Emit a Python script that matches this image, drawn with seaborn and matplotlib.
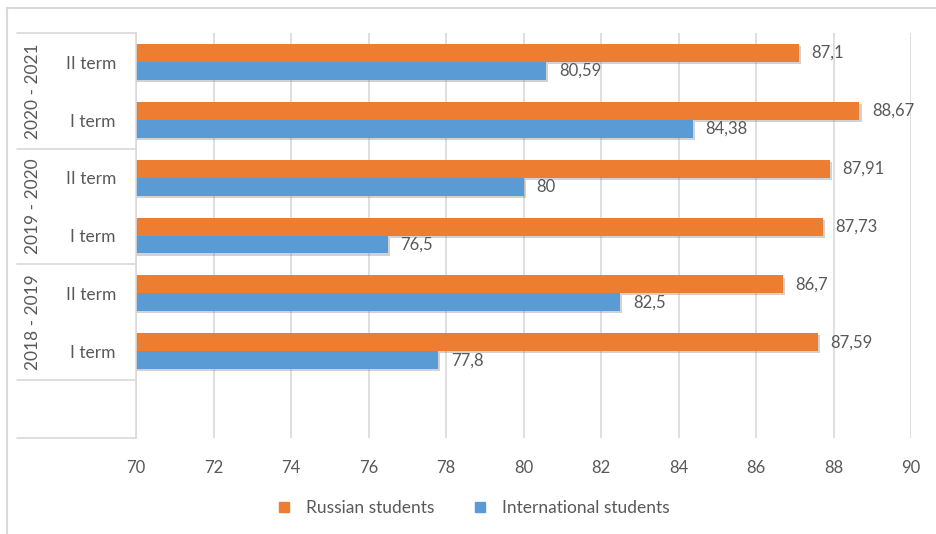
import pandas as pd
import matplotlib.pyplot as plt
import seaborn as sns
from matplotlib.lines import Line2D
from matplotlib import patheffects as pe
from matplotlib.transforms import blended_transform_factory

# Values, bottom row first
years = ["2018 - 2019", "2019 - 2020", "2020 - 2021"]
terms = ["I term", "II term"]
russian = [87.59, 86.7, 87.73, 87.91, 88.67, 87.1]
international = [77.8, 82.5, 76.5, 80, 84.38, 80.59]
series = ["Russian students", "International students"]
x_ticks = [70, 72, 74, 76, 78, 80, 82, 84, 86, 88, 90]

ORANGE = "#ED7D31"
BLUE = "#5B9BD5"
GRID = "#D9D9D9"
TEXT = "#595959"

sns.set_theme(style="white")
plt.rcParams['font.family'] = ['Lato', 'DejaVu Sans']

# long table for seaborn
rows = []
keys = []
i = 0
for year in years:
    for term in terms:
        key = f"{year}|{term}"
        keys.append(key)
        rows.append({"cat": key, "series": series[0], "value": russian[i]})
        rows.append({"cat": key, "series": series[1], "value": international[i]})
        i += 1
df = pd.DataFrame(rows)

order = keys[::-1] + ["blank"]  # top to bottom, plus the empty row

fig = plt.figure(figsize=(9.36, 5.34), dpi=100)
ax = fig.add_axes([136 / 936, 1 - 438 / 534, 775 / 936, 405 / 534])

sns.barplot(data=df, x="value", y="cat", hue="series", order=order,
            hue_order=series, palette=[ORANGE, BLUE], orient="h",
            width=0.62, saturation=1, linewidth=0, ax=ax, legend=False)

shadow = [pe.SimplePatchShadow(offset=(1.5, -1.5), shadow_rgbFace="#7f7f7f", alpha=0.35), pe.Normal()]
for container in ax.containers:
    for p in container:
        p.set_path_effects(shadow)
        p.set_edgecolor("none")
    labels = [f"{p.get_width():g}".replace(".", ",") for p in container]
    ax.bar_label(container, labels=labels, padding=9, fontsize=12, color=TEXT)

ax.set_xlim(70, 90)
ax.set_ylim(len(order) - 0.5, -0.5)
ax.set_xticks(x_ticks)
ax.set_yticks([])
ax.set_xlabel("")
ax.set_ylabel("")
ax.tick_params(axis="x", length=0, pad=16, labelsize=12, labelcolor=TEXT)
ax.grid(axis="x", color=GRID, linewidth=1.2)
ax.set_axisbelow(True)
for side in ["top", "right", "bottom"]:
    ax.spines[side].set_visible(False)
ax.spines["left"].set_color(GRID)
ax.spines["left"].set_linewidth(1.2)

# two-level category labels on the left
tr = blended_transform_factory(ax.transAxes, ax.transData)
x_line = (17 - 136) / 775
x_term = (116 - 136) / 775
x_year = (33 - 136) / 775
for pos, key in enumerate(order):
    if key == "blank":
        continue
    year, term = key.split("|")
    ax.text(x_term, pos + 0.03, term, transform=tr, ha="right", va="center",
            fontsize=12.5, color=TEXT)
for g, year in enumerate(years[::-1]):
    ax.text(x_year, 2 * g + 0.5, year, transform=tr, ha="center", va="center",
            rotation=90, fontsize=12.5, color=TEXT)
for y in [-0.5, 1.5, 3.5, 5.5, 6.5]:
    ax.plot([x_line, 0], [y, y], transform=tr, color=GRID, linewidth=1.2, clip_on=False)

# legend
handles = [Line2D([], [], marker="s", linestyle="", markersize=7, color=c) for c in [ORANGE, BLUE]]
fig.legend(handles, series, loc="center", bbox_to_anchor=(0.5, 1 - 508 / 534), ncol=2,
           frameon=False, fontsize=12.5, labelcolor=TEXT, handletextpad=0.3,
           columnspacing=1.6)

# outer frame (only top and left edges are visible in the crop)
fig.add_artist(Line2D([7 / 936, 1], [1 - 8 / 534, 1 - 8 / 534], color=GRID, linewidth=1.5))
fig.add_artist(Line2D([7 / 936, 7 / 936], [0, 1 - 8 / 534], color=GRID, linewidth=1.5))

fig.savefig("out.png", dpi=100)
